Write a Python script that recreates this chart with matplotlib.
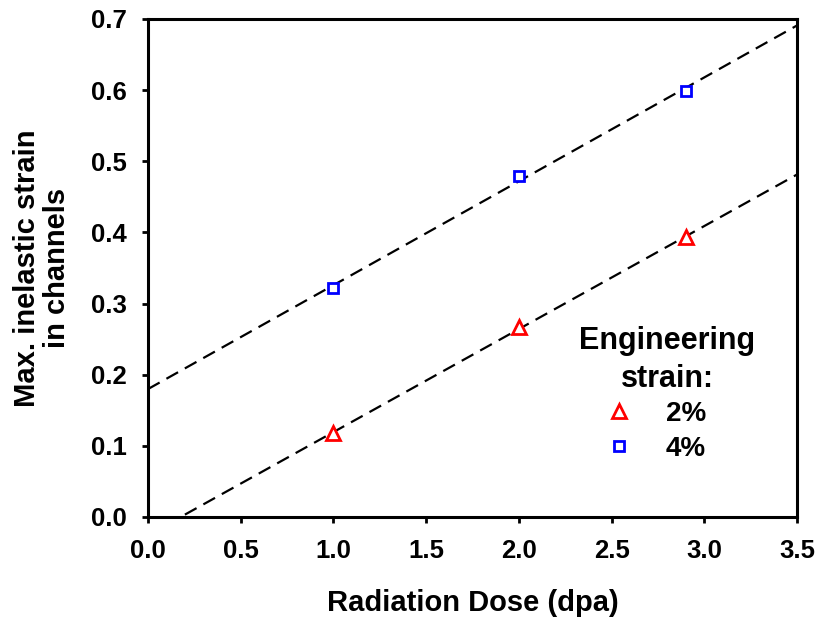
import matplotlib
matplotlib.use('Agg')
import matplotlib.pyplot as plt
import numpy as np

plt.rcParams['font.family'] = ['Liberation Sans', 'DejaVu Sans']
plt.rcParams['font.weight'] = 'bold'

dose = [1.0, 2.0, 2.9]
strain_2pct = [0.118, 0.267, 0.393]
strain_4pct = [0.322, 0.480, 0.599]
labels = ['2%', '4%']
xticks = [0.0, 0.5, 1.0, 1.5, 2.0, 2.5, 3.0, 3.5]
yticks = [0.0, 0.1, 0.2, 0.3, 0.4, 0.5, 0.6, 0.7]

W, H = 821, 619
fig = plt.figure(figsize=(W/100, H/100), dpi=100)
ax = fig.add_axes([148/W, 1 - 517/H, (797-148)/W, (517-19)/H])

# linear fits
xfit = np.array([0.0, 3.5])
for y in (strain_2pct, strain_4pct):
    k, b = np.polyfit(dose, y, 1)
    ax.plot(xfit, k*xfit + b, color='black', ls=(0, (6, 3.5)), lw=1.6, zorder=1)

ax.plot(dose, strain_2pct, ls='none', marker='^', ms=9.5, mfc='white', mec='red', mew=2, label=labels[0], zorder=3)
ax.plot(dose, strain_4pct, ls='none', marker='s', ms=7.5, mfc='white', mec='blue', mew=2, label=labels[1], zorder=3)

ax.set_xlim(0, 3.5)
ax.set_ylim(0, 0.7)
ax.set_xticks(xticks)
ax.set_yticks(yticks)
ax.set_xticklabels(['%.1f' % v for v in xticks])
ax.set_yticklabels(['%.1f' % v for v in yticks])
ax.tick_params(direction='out', length=4.5, width=2, labelsize=18.5, pad=11)
for s in ax.spines.values():
    s.set_linewidth(2.2)

ax.set_xlabel('Radiation Dose (dpa)', fontsize=21, fontweight='bold', labelpad=19)
ax.set_ylabel('Max. inelastic strain\nin channels', fontsize=21, fontweight='bold', labelpad=14,
              linespacing=1.1)

fig.text(667/W, 1 - 349/H, 'Engineering', fontsize=22, fontweight='bold', ha='center', va='baseline')
fig.text(667/W, 1 - 387/H, 'strain:', fontsize=22, fontweight='bold', ha='center', va='baseline')
leg = ax.legend(loc='upper left', bbox_to_anchor=(588/W, 1 - 401/H), bbox_transform=fig.transFigure,
                frameon=False, fontsize=20, handlelength=2.2, handletextpad=0.6,
                labelspacing=0.33, borderpad=0, borderaxespad=0)

fig.savefig('out.png', dpi=100)
